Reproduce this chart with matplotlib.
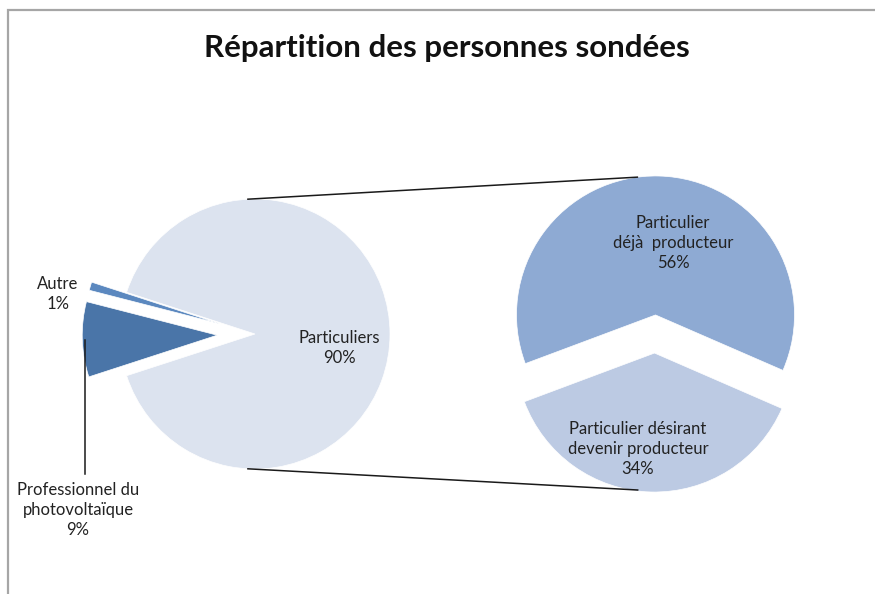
import matplotlib.pyplot as plt
import numpy as np
from matplotlib.patches import Rectangle

# ---- data ----
title = "Répartition des personnes sondées"
main_labels = ["Particuliers", "Autre", "Professionnel du\nphotovoltaïque"]
main_values = [90, 1, 9]
sub_labels = ["Particulier\ndéjà  producteur", "Particulier désirant\ndevenir producteur"]
sub_values = [56, 34]

# ---- figure ----
W, H = 875, 594
fig = plt.figure(figsize=(8.75, 5.94), dpi=100)
ax = fig.add_axes([0, 0, 1, 1])


def Y(y):
    return H - y


FONT = ['Lato', 'DejaVu Sans']
TXT = '#222222'

# ---- main pie ----
main_colors = ['#dce3ef', '#5b88bf', '#4a75a8']
c1 = (255, Y(334))
r1 = 135
ax.pie(main_values, colors=main_colors, startangle=-162, counterclock=True,
       explode=[0, 0.27 * r1, 0.28 * r1], radius=r1, center=c1, frame=True,
       wedgeprops=dict(edgecolor='white', linewidth=0.5))

# ---- sub pie ----
sub_colors = ['#8eaad3', '#bccae3']
c2 = (655, Y(334))
r2 = 139
ex2 = 0.137 * r2
ax.pie(sub_values, colors=sub_colors, startangle=-23.5, counterclock=True,
       explode=[ex2, ex2], radius=r2, center=c2, frame=True,
       wedgeprops=dict(edgecolor='white', linewidth=0.5))
ax.set_xlim(0, W)
ax.set_ylim(0, H)
ax.set_aspect('equal')
ax.axis('off')

# chart border
ax.add_patch(Rectangle((8, Y(620)), 900, 610, fill=False, edgecolor='#a6a6a6', lw=1.6))

# title
ax.text(447, Y(48), title, ha='center', va='center', fontsize=22.5,
        fontweight='bold', family=FONT, color='#111111')

# connector lines (from top/bottom of main pie to sub pie slices)
total_sub = sum(sub_values)
mid_top = -23.5 + 360 * sub_values[0] / total_sub / 2
mid_bot = -23.5 + 360 * sub_values[0] / total_sub + 360 * sub_values[1] / total_sub / 2


def pt(c, r, ang):
    return (c[0] + r * np.cos(np.radians(ang)), c[1] + r * np.sin(np.radians(ang)))


top_c = pt(c2, ex2, mid_top)
bot_c = pt(c2, ex2, mid_bot)

p1 = pt(c1, r1, 93)
p2 = pt(top_c, r2, 97.5)
ax.plot([p1[0], p2[0]], [p1[1], p2[1]], color='#1a1a1a', lw=1.1)
p3 = pt(c1, r1, 267)
p4 = pt(bot_c, r2 - 1, 263)
ax.plot([p3[0], p4[0]], [p3[1], p4[1]], color='#1a1a1a', lw=1.1)

# ---- labels ----
fs = 12
ax.text(339, Y(348), f"{main_labels[0]}\n{main_values[0]}%", ha='center', va='center',
        fontsize=fs, family=FONT, color=TXT, linespacing=1.32)
ax.text(58, Y(294), f"{main_labels[1]}\n{main_values[1]}%", ha='center', va='center',
        fontsize=fs, family=FONT, color=TXT, linespacing=1.32)
ax.text(78, Y(510), f"{main_labels[2]}\n{main_values[2]}%", ha='center', va='center',
        fontsize=fs, family=FONT, color=TXT, linespacing=1.32)
# leader line for Professionnel
ax.plot([85, 85], [Y(340), Y(474)], color='#1a1a1a', lw=1.1)

ax.text(673, Y(243), f"{sub_labels[0]}\n{sub_values[0]}%", ha='center', va='center',
        fontsize=fs, family=FONT, color=TXT, linespacing=1.32)
ax.text(638, Y(449), f"{sub_labels[1]}\n{sub_values[1]}%", ha='center', va='center',
        fontsize=fs, family=FONT, color=TXT, linespacing=1.32)

fig.savefig('out.png', dpi=100)
